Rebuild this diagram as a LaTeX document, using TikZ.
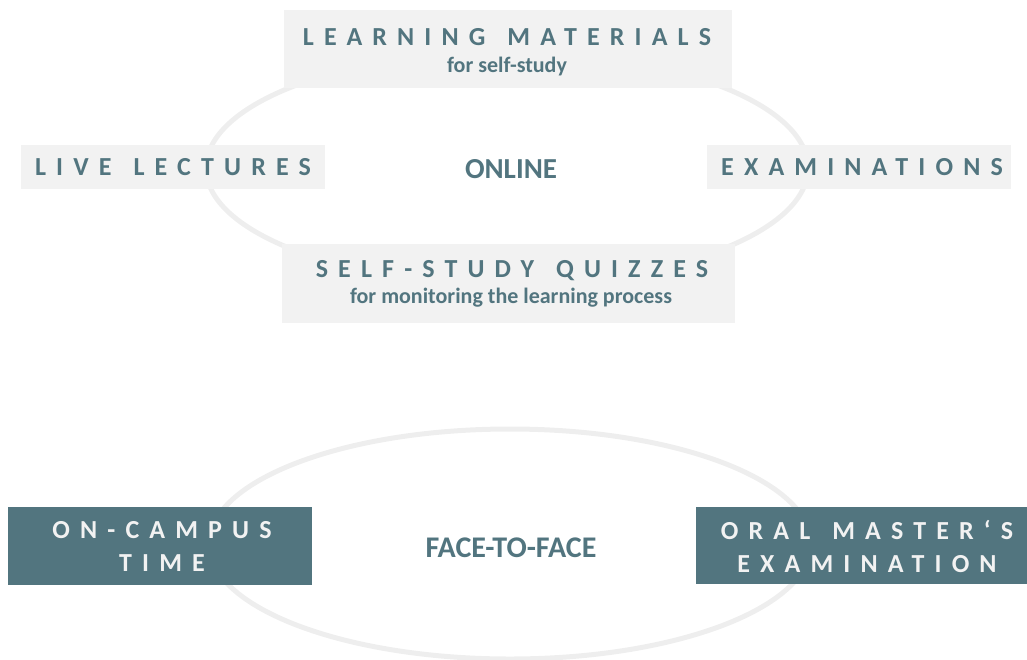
\documentclass[tikz,border=0pt]{standalone}
\usepackage{fontspec}
\setmainfont{Carlito}
\newfontfamily\spaced[LetterSpace=39]{Carlito}
\newcommand{\wgap}{\hspace{22pt}}
\usepackage{tikz}

\begin{document}
\begin{tikzpicture}[x=1pt,y=-1pt,
  rim/.style={draw=ringgray,line width=5pt},
  title/.style={text=slate,inner sep=0pt,font=\spaced\bfseries\fontsize{26}{30}\selectfont},
  sub/.style={text=slate,inner sep=0pt,font=\bfseries\fontsize{22}{26}\selectfont},
  mode/.style={text=slate,inner sep=0pt,font=\bfseries\fontsize{29}{33}\selectfont},
  inv/.style={text=mist,inner sep=0pt,align=center,font=\spaced\bfseries\fontsize{26}{33}\selectfont}]

\definecolor{slate}{HTML}{52757F};
\definecolor{mist}{HTML}{F2F2F2};
\definecolor{ringgray}{HTML}{EEEEEE};

\useasboundingbox (0,0) rectangle (1027,659);

\def\rx{301}; \def\ry{116};

%%Online
\draw [rim] (507,168) ellipse [x radius=\rx, y radius=\ry];
\fill [mist] (284,10) rectangle (732,88);
\fill [mist] (21,145) rectangle (325,189);
\fill [mist] (707,145) rectangle (1011,189);
\fill [mist] (282,244) rectangle (735,323);

\node[title] (lm) at (507,37) {LEARNING\wgap MATERIALS};
\node[sub] (lmsub) at (507,67) {for self-study};
\node[title] (ll) at (173,167) {LIVE\wgap LECTURES};
\node[title] (ex) at (862,167) {EXAMINATIONS};
\node[title] (sq) at (512,271) {SELF-STUDY\wgap QUIZZES};
\node[sub] (sqsub) at (511,298) {for monitoring the learning process};
\node[mode] (online) at (511,169) {ONLINE};

%%Face to face
\draw [rim] (510,544) ellipse [x radius=\rx, y radius=115];
\fill [slate] (8,507) rectangle (312,585);
\fill [slate] (696,507) rectangle (1027,584);

\node[inv] (oc) at (162,546) {ON-CAMPUS\\TIME};
\node[inv] (om) at (867,546) {ORAL\wgap MASTER‘S\\EXAMINATION};
\node[mode,font=\bfseries\fontsize{30}{34}\selectfont] (f2f) at (511,548) {FACE-TO-FACE};

\end{tikzpicture}
\end{document}
